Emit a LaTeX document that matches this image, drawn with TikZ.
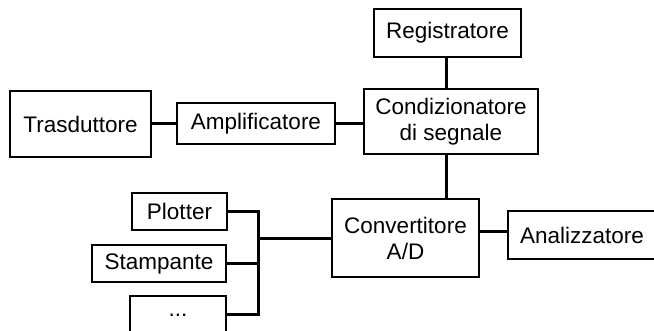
\documentclass[tikz,border=0pt]{standalone}
\usepackage{fontspec}
\setmainfont{Liberation Sans}
\begin{document}
\begin{tikzpicture}[x=1pt,y=-1pt,
  blk/.style={draw=black,line width=1.4pt,inner sep=0pt,align=center,
    font=\fontsize{22.5}{26}\selectfont},
  wire/.style={draw=black,line width=3pt}]
\useasboundingbox (0,0) rectangle (654,331);
\clip (0,0) rectangle (654,331);
\node[blk,minimum width=141pt,minimum height=66pt] (tra) at (80.5,124) {Trasduttore};
\node[blk,minimum width=158pt,minimum height=41pt] (amp) at (256,123.5) {Amplificatore};
\node[blk,minimum width=147pt,minimum height=48pt] (reg) at (447.5,33) {Registratore};
\node[blk,minimum width=174pt,minimum height=65pt] (cond) at (451,121.5) {Condizionatore\\di segnale};
\node[blk,minimum width=147pt,minimum height=78pt] (conv) at (405.5,238) {Convertitore\\A/D};
\node[blk,minimum width=148pt,minimum height=48pt] (anal) at (582,235) {Analizzatore};
\node[blk,minimum width=95pt,minimum height=37pt] (plot) at (179.5,211.5) {Plotter};
\node[blk,minimum width=134pt,minimum height=37pt] (stam) at (159,263.5) {Stampante};
\node[blk,minimum width=96pt,minimum height=38pt] (dots) at (178,315) {...};
\coordinate (bus) at (258,239);
\draw[wire] (tra.east) -- (tra.east -| amp.west);
\draw[wire] (amp.east) -- (amp.east -| cond.west);
\draw[wire] ([xshift=-1.5pt]reg.south) -- ([xshift=-1.5pt]reg.south |- cond.north);
\draw[wire] ([xshift=-1.5pt]reg.south |- cond.south) -- ([xshift=-1.5pt]reg.south |- conv.north);
\draw[wire] ([yshift=3pt]anal.west) -- ([yshift=3pt]anal.west -| conv.east);
\draw[wire] ([yshift=-1pt]conv.west) -- ([yshift=-1pt]conv.west -| bus);
\draw[wire] (plot.east) -- (plot.east -| bus);
\draw[wire] (stam.east) -- (stam.east -| bus);
\draw[wire] (dots.east) -- (dots.east -| bus);
\draw[wire,line cap=rect] (plot.east -| bus) -- (dots.east -| bus);
\end{tikzpicture}
\end{document}
